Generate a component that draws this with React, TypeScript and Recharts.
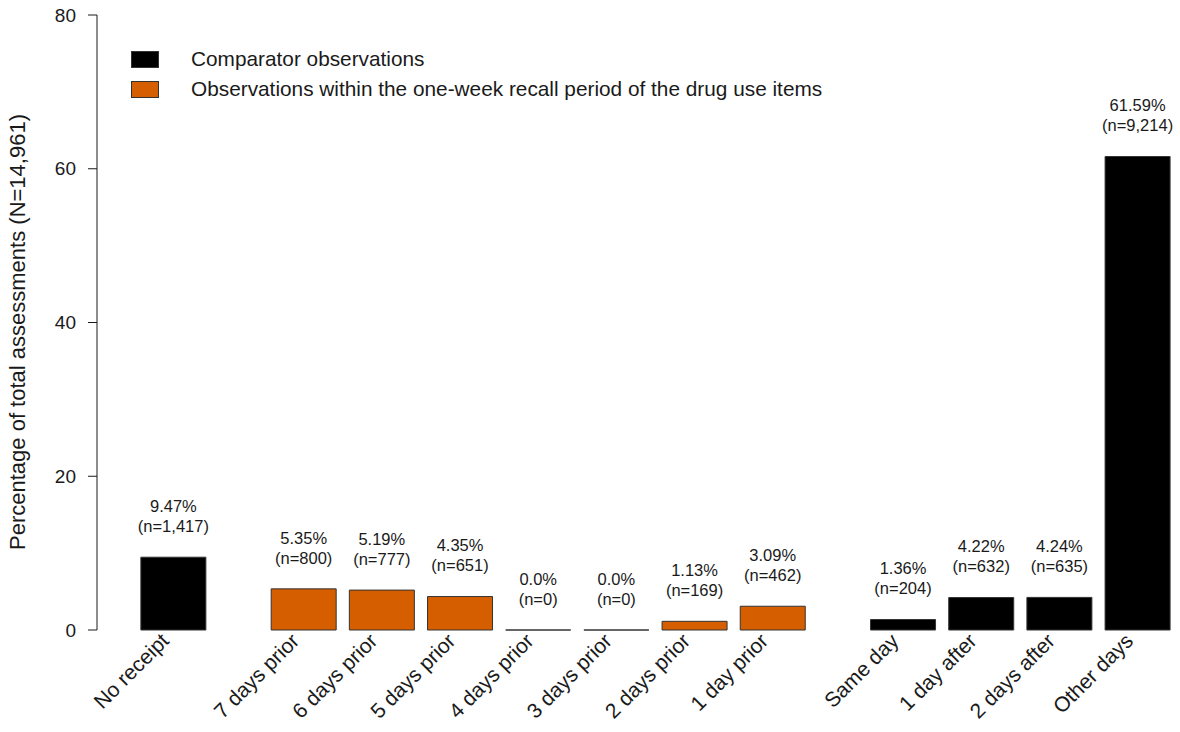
import React from 'react';
import { BarChart, Bar, XAxis, YAxis, LabelList } from 'recharts';

const categories = [
  'No receipt',
  '7 days prior',
  '6 days prior',
  '5 days prior',
  '4 days prior',
  '3 days prior',
  '2 days prior',
  '1 day prior',
  'Same day',
  '1 day after',
  '2 days after',
  'Other days',
];
const percentages = [9.47, 5.35, 5.19, 4.35, 0, 0, 1.13, 3.09, 1.36, 4.22, 4.24, 61.59];
const percentLabels = ['9.47%', '5.35%', '5.19%', '4.35%', '0.0%', '0.0%', '1.13%', '3.09%', '1.36%', '4.22%', '4.24%', '61.59%'];
const counts = ['1,417', '800', '777', '651', '0', '0', '169', '462', '204', '632', '635', '9,214'];
// 0 = no receipt, 1 = recall week, 2 = after
const groups = [0, 1, 1, 1, 1, 1, 1, 1, 2, 2, 2, 2];
const yTicks = [0, 20, 40, 60, 80];

const FONT = '"Liberation Sans", Arial, sans-serif';
const INK = '#1a1a1a';
const ORANGE = '#D55E00';

// bar slot 1.2, extra gap between groups
const data = categories.map((name, i) => ({
  name,
  pos: i * 1.2 + groups[i] * 0.8,
  value: percentages[i],
  label: percentLabels[i],
  n: counts[i],
  group: groups[i],
}));
const positions = data.map((d) => d.pos);

const BarShape = (props: any) => {
  const { x, y, width, height, payload } = props;
  const fill = payload.group === 1 ? ORANGE : '#000';
  return (
    <path
      d={`M${x},${y}h${width}v${height}h${-width}Z`}
      fill={fill}
      stroke="#333"
      strokeWidth={1}
    />
  );
};

const BarLabel = (props: any) => {
  const { x, y, width, index } = props;
  const cx = x + width / 2;
  return (
    <g fontFamily={FONT} fontSize={16.5} fill={INK} textAnchor="middle">
      <text x={cx} y={y - 51} dy="0.35em">{data[index].label}</text>
      <text x={cx} y={y - 31} dy="0.35em">{`(n=${data[index].n})`}</text>
    </g>
  );
};

const XTick = (props: any) => {
  const { x, y, payload } = props;
  const idx = positions.indexOf(payload.value);
  const px = x - 8;
  const py = y + 7;
  return (
    <text
      x={px}
      y={py}
      dy="0.35em"
      textAnchor="end"
      transform={`rotate(-45, ${px}, ${py})`}
      fontFamily={FONT}
      fontSize={21}
      fill={INK}
    >
      {idx >= 0 ? categories[idx] : ''}
    </text>
  );
};

export default function App() {
  return (
    <div style={{ position: 'absolute', left: 0, top: 0, width: 1180, height: 732, background: '#fff' }}>
      <BarChart
        width={1180}
        height={732}
        data={data}
        margin={{ top: 15, right: 7, bottom: 0, left: 0 }}
        barSize={65}
      >
        <XAxis
          type="number"
          dataKey="pos"
          domain={[-1.166, 15.35]}
          ticks={positions}
          interval={0}
          axisLine={false}
          tickLine={false}
          tickSize={0}
          tickMargin={0}
          height={102}
          tick={<XTick />}
          allowDataOverflow
        />
        <YAxis
          domain={[0, 80]}
          ticks={yTicks}
          width={97}
          tickSize={9}
          tickMargin={12}
          axisLine={{ stroke: INK }}
          tickLine={{ stroke: INK }}
          tick={{ fontFamily: FONT, fontSize: 19, fill: INK }}
        />
        <Bar dataKey="value" isAnimationActive={false} shape={<BarShape />}>
          <LabelList dataKey="value" content={<BarLabel />} />
        </Bar>
      </BarChart>

      <div
        style={{
          position: 'absolute',
          left: 18,
          top: 332,
          transform: 'translate(-50%, -50%) rotate(-90deg)',
          whiteSpace: 'nowrap',
          fontFamily: FONT,
          fontSize: 22,
          color: INK,
        }}
      >
        Percentage of total assessments (N=14,961)
      </div>

      <div style={{ position: 'absolute', left: 131, top: 44, fontFamily: FONT, fontSize: 20.8, color: INK }}>
        {[
          { color: '#000', text: 'Comparator observations' },
          { color: ORANGE, text: 'Observations within the one-week recall period of the drug use items' },
        ].map((item) => (
          <div key={item.text} style={{ display: 'flex', alignItems: 'center', height: 30 }}>
            <span
              style={{
                display: 'inline-block',
                width: 26,
                height: 15,
                background: item.color,
                border: '1px solid #333',
                marginRight: 32,
              }}
            />
            <span>{item.text}</span>
          </div>
        ))}
      </div>
    </div>
  );
}
